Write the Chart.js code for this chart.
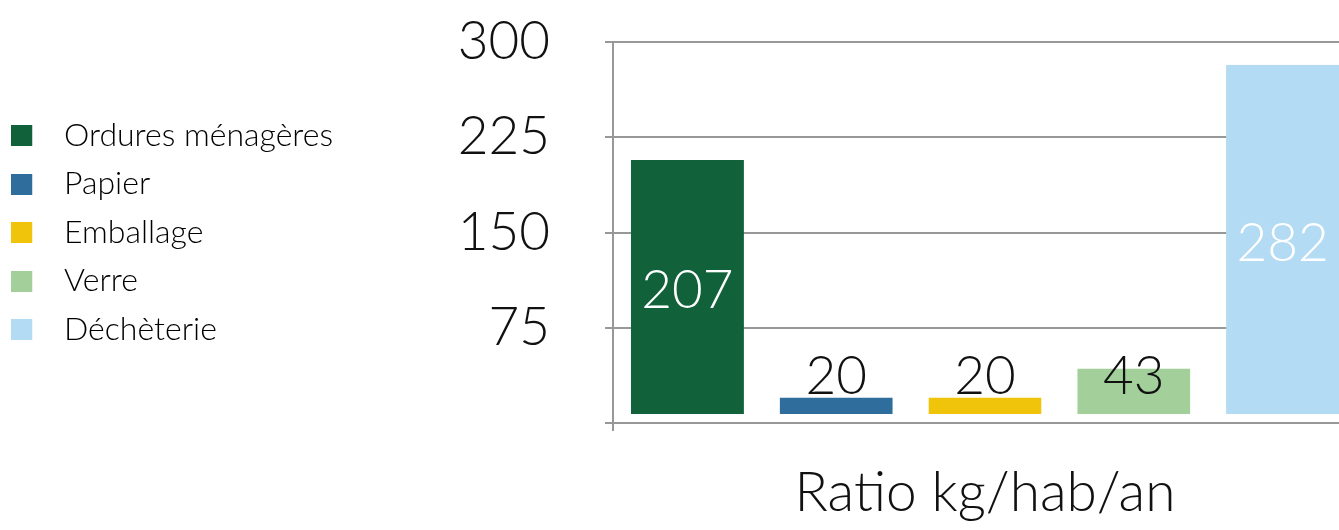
<!DOCTYPE html>
<html>
<head>
<meta charset="utf-8">
<script src="https://cdn.jsdelivr.net/npm/chart.js@4.4.0/dist/chart.umd.min.js"></script>
<style>
    html, body { margin: 0; padding: 0; background: #fff; width: 1339px; height: 530px; overflow: hidden; }
    #wrap { width: 1357px; height: 530px; }
</style>
</head>
<body>
<div id="wrap"><canvas id="bar-chart"></canvas></div>
<script>
const categories = ['Ordures ménagères', 'Papier', 'Emballage', 'Verre', 'Déchèterie'];
const ratio_values = [207, 20, 20, 43, 282];
const bar_colors = ['#11613a', '#2e6d9c', '#f1c40c', '#a3cf9b', '#b4dbf4'];
const y_ticks = [75, 150, 225, 300];
const x_title = 'Ratio kg/hab/an';

const FONT = 'Lato, "Open Sans", sans-serif';
const GRID = '#989898';

// square drawn at the left of a wider canvas, so the legend text sits further right
function legend_square(color) {
    let c = document.createElement('canvas');
    c.width = 42;
    c.height = 21;
    let g = c.getContext('2d');
    g.fillStyle = color;
    g.fillRect(0, 0, 21, 21);
    return c;
}

// numbers on the bars: white inside the tall ones, black above the short ones
const value_labels = {
    id: 'value_labels',
    afterDatasetsDraw(chart) {
        const ctx = chart.ctx;
        const meta = chart.getDatasetMeta(0);
        const y = chart.scales.y;
        ctx.save();
        ctx.font = '300 53px ' + FONT;
        ctx.textAlign = 'center';
        ctx.textBaseline = 'middle';
        meta.data.forEach(function(bar, i) {
            let v = ratio_values[i];
            if (v > 100) {
                ctx.fillStyle = '#ffffff';
                ctx.fillText(v, bar.x, (bar.y + bar.base) / 2);
            } else {
                ctx.fillStyle = '#111111';
                ctx.fillText(v, bar.x, y.getPixelForValue(36));
            }
        });
        ctx.restore();
    }
};

var chrt = document.getElementById('bar-chart').getContext('2d');
var chartId = new Chart(chrt, {
    type: 'bar',
    data: {
        labels: categories,
        datasets: [{
            label: x_title,
            data: ratio_values,
            backgroundColor: bar_colors,
            borderColor: 'rgba(0,0,0,0)',
            borderWidth: {top: 0, left: 0, right: 0, bottom: 8},
            borderSkipped: false,
            categoryPercentage: 1,
            barPercentage: 0.76
        }]
    },
    options: {
        responsive: true,
        maintainAspectRatio: false,
        devicePixelRatio: 1,
        animation: false,
        layout: {
            padding: {top: 42, right: 0, bottom: 0, left: 0}
        },
        plugins: {
            tooltip: {enabled: false},
            legend: {
                position: 'left',
                fullSize: false,
                labels: {
                    usePointStyle: true,
                    pointStyleWidth: 31.5,
                    padding: 16.5,
                    color: '#333333',
                    font: {family: FONT, size: 32, weight: 300},
                    generateLabels: function(chart) {
                        return categories.map(function(name, i) {
                            return {
                                text: name,
                                fillStyle: bar_colors[i],
                                strokeStyle: bar_colors[i],
                                lineWidth: 0,
                                pointStyle: legend_square(bar_colors[i]),
                                hidden: false,
                                index: i
                            };
                        });
                    }
                }
            }
        },
        scales: {
            x: {
                ticks: {display: false},
                grid: {
                    display: true,
                    drawOnChartArea: false,
                    drawTicks: true,
                    tickLength: 8,
                    lineWidth: 2,
                    color: function(c) { return c.index === 0 ? GRID : 'rgba(0,0,0,0)'; }
                },
                border: {display: true, color: GRID, width: 2},
                title: {
                    display: true,
                    text: x_title,
                    color: '#111111',
                    font: {family: FONT, size: 55, weight: 300},
                    padding: {top: 29, bottom: 4}
                }
            },
            y: {
                min: 0,
                max: 300,
                ticks: {
                    stepSize: 75,
                    padding: 55,
                    color: '#111111',
                    font: {family: FONT, size: 53, weight: 300},
                    callback: function(v) { return y_ticks.includes(v) ? v : ''; }
                },
                grid: {color: GRID, lineWidth: 2, tickLength: 8, drawTicks: true},
                border: {display: true, color: GRID, width: 2},
                afterFit: function(s) {
                    s.width = 613 - s.chart.legend.width;
                    s.paddingTop = 0;
                    s.paddingBottom = 0;
                }
            }
        }
    },
    plugins: [value_labels]
});
</script>
</body>
</html>
